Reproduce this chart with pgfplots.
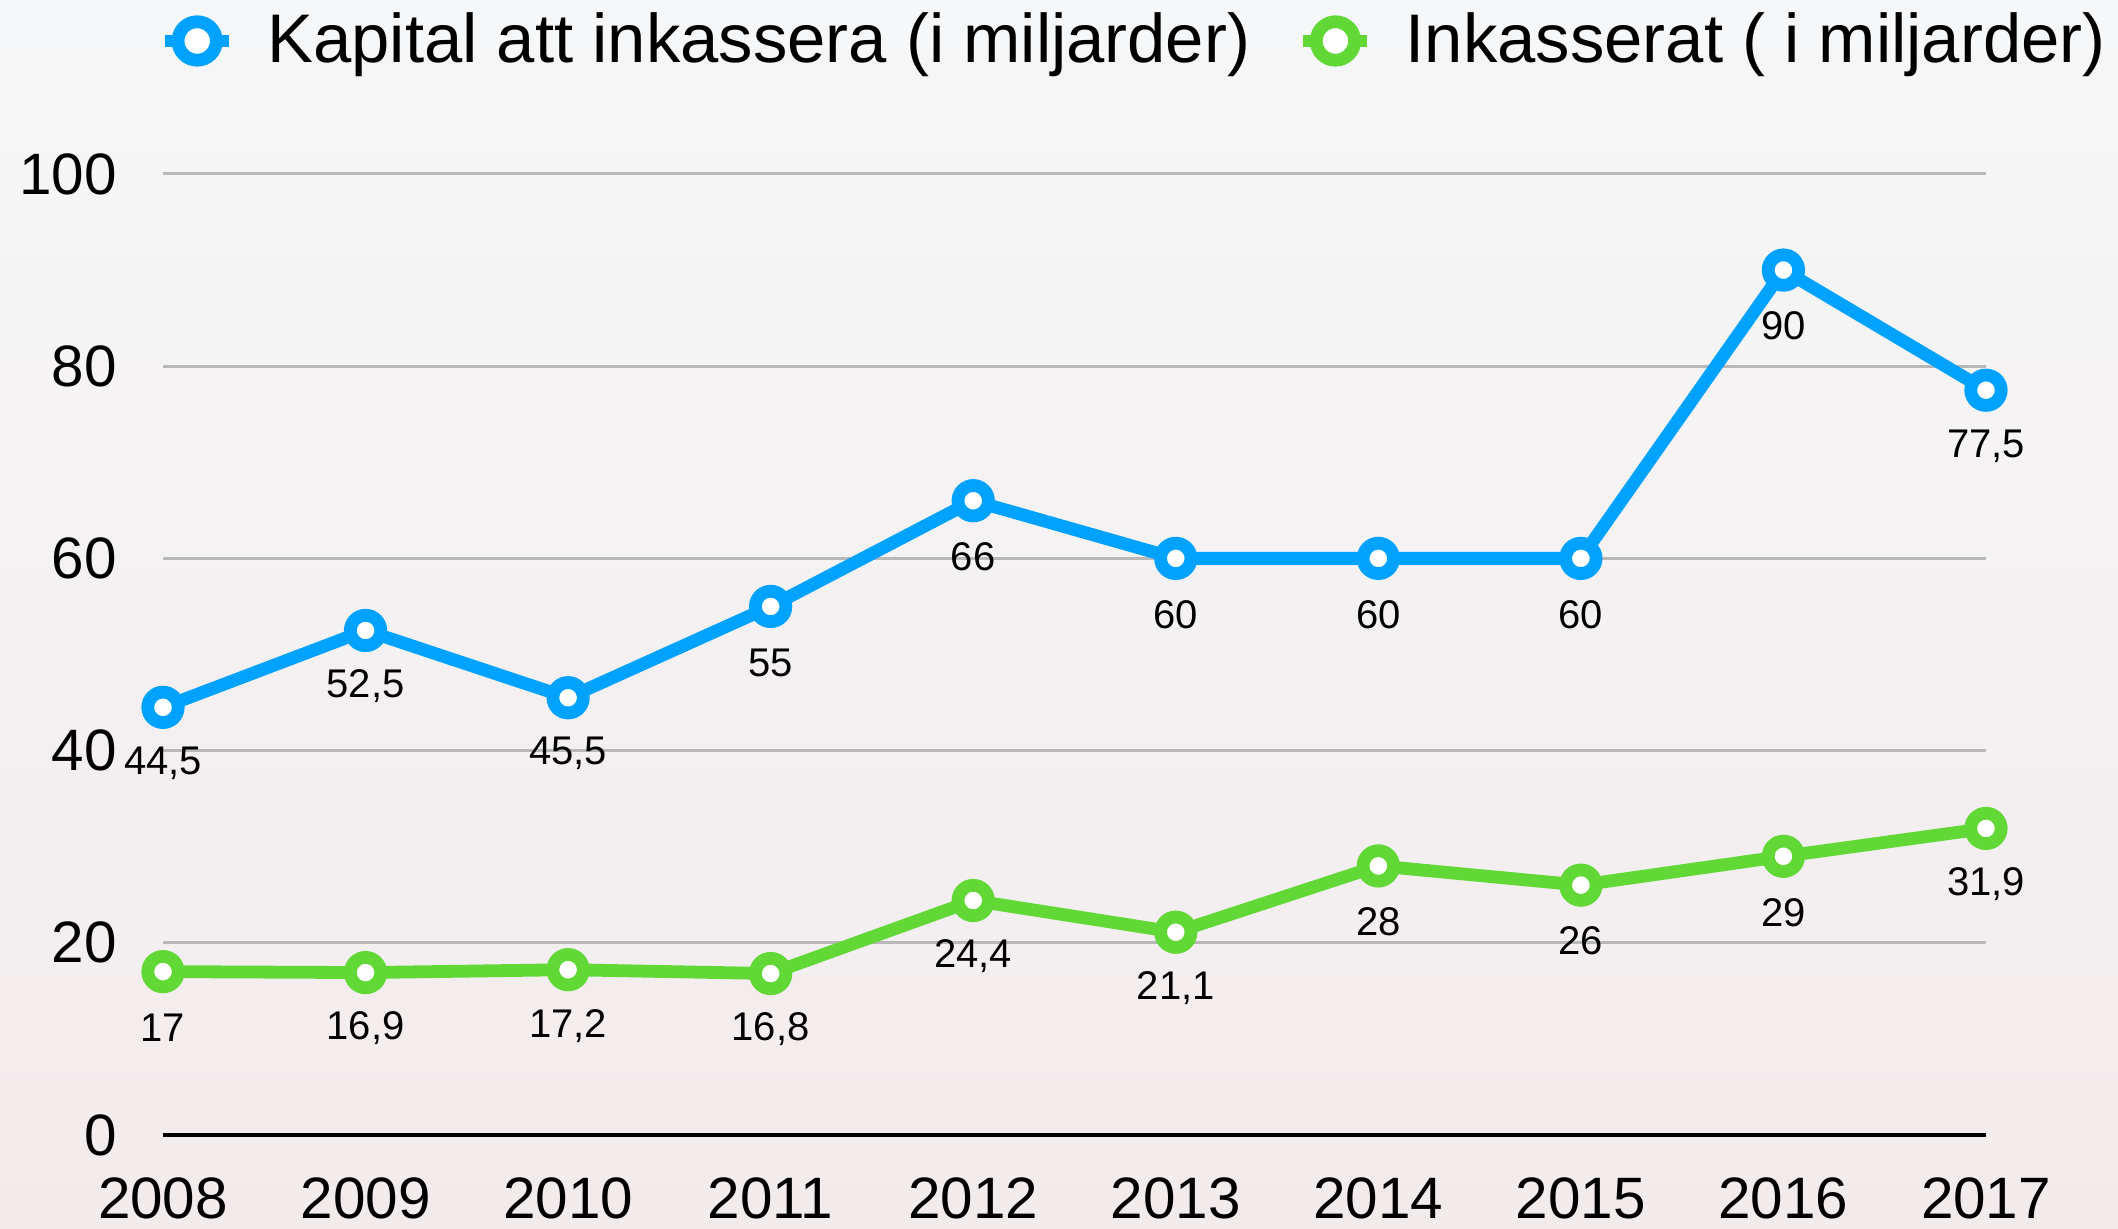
\documentclass[border=0pt]{standalone}
\usepackage{pgfplots}
\pgfplotsset{compat=1.18}
\usepackage{fontspec}
\setmainfont{Liberation Sans}
\definecolor{cblue}{RGB}{0,162,255}
\definecolor{cgreen}{RGB}{97,216,54}
\definecolor{cgrid}{RGB}{184,184,184}
\definecolor{bgtop}{RGB}{246,247,248}
\definecolor{bgbot}{RGB}{242,235,236}
\begin{document}
\begin{tikzpicture}
\shade[top color=bgtop, bottom color=bgbot] (0,0) rectangle (529.5pt,307.25pt);
\path[use as bounding box] (0,0) rectangle (529.5pt,307.25pt);
\begin{axis}[
  scale only axis,
  width=455.75pt, height=240.25pt,
  at={(40.75pt,23.5pt)}, anchor=south west,
  xmin=0, xmax=9, ymin=0, ymax=100,
  clip=false,
  axis line style={draw=none},
  xtick={0,...,9},
  xticklabels={2008,2009,2010,2011,2012,2013,2014,2015,2016,2017},
  ytick={0,20,40,60,80,100},
  major tick length=0pt,
  ymajorgrids,
  grid style={cgrid, line width=0.75pt},
  tick label style={font=\fontsize{14.6}{16}\selectfont},
  /pgf/number format/assume math mode=true,
  yticklabel style={anchor=east, xshift=-8pt},
  xticklabel style={anchor=north, inner sep=0pt, yshift=-10.6pt},
  nodes near coords={\pgfmathprintnumber[use comma]{\pgfplotspointmeta}},
  every node near coord/.append style={anchor=center, yshift=-14pt, text=black, font=\fontsize{10}{12}\selectfont},
  legend columns=2,
  legend style={at={(-4.25pt,273.5pt)}, anchor=west, draw=none, fill=none,
    font=\fontsize{17.2}{20}\selectfont, column sep=6pt,
    /tikz/every even column/.append style={column sep=9.7pt}},
  legend image code/.code={\draw[mark repeat=2,mark phase=2, mark size=4.8pt] plot coordinates {(0pt,0pt)(8pt,0pt)(16pt,0pt)};},
]
\draw[black, line width=1pt] (axis cs:0,0) -- (axis cs:9,0);
\addplot[cblue, line width=3.2pt, mark=*, mark size=3.8pt, mark options={fill=white, draw=cblue, line width=3.2pt}]
  coordinates {(0,44.5)(1,52.5)(2,45.5)(3,55)(4,66)(5,60)(6,60)(7,60)(8,90)(9,77.5)};
\addlegendentry{Kapital att inkassera (i miljarder)}
\addplot[cgreen, line width=3.2pt, mark=*, mark size=3.8pt, mark options={fill=white, draw=cgreen, line width=3.2pt}]
  coordinates {(0,17)(1,16.9)(2,17.2)(3,16.8)(4,24.4)(5,21.1)(6,28)(7,26)(8,29)(9,31.9)};
\addlegendentry{Inkasserat ( i miljarder)}
\end{axis}
\end{tikzpicture}
\end{document}
